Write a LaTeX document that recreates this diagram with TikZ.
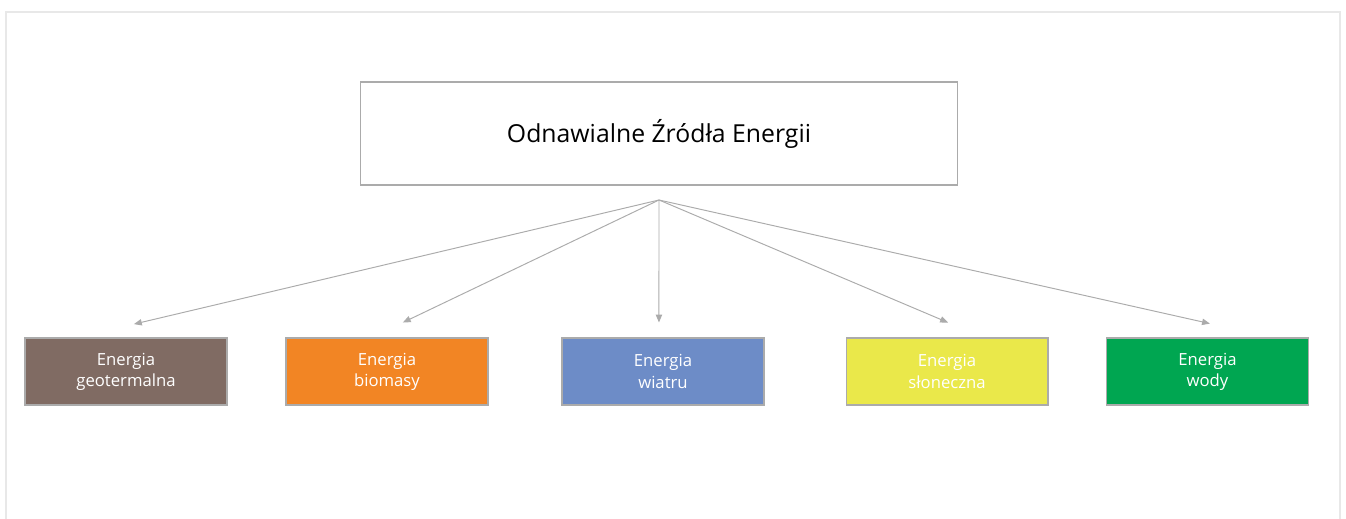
\documentclass[tikz,border=0pt]{standalone}
\usepackage{fontspec}
\setmainfont{Open Sans}
\usepackage{tikz}
\usetikzlibrary{arrows.meta,positioning}

\definecolor{lineGray}{HTML}{ABABAB}
\definecolor{frameGray}{HTML}{E8E8E8}
\definecolor{geoBrown}{HTML}{806B63}
\definecolor{bioOrange}{HTML}{F28524}
\definecolor{windBlue}{HTML}{6D8CC7}
\definecolor{sunYellow}{HTML}{EAE84A}
\definecolor{waterGreen}{HTML}{00A651}

\begin{document}
\begin{tikzpicture}[
  x=0.02cm, y=-0.02cm,
  every node/.style={font=\fontsize{9.5}{12}\selectfont},
  topbox/.style={draw=lineGray, line width=0.6pt, fill=white,
    minimum width=11.96cm, minimum height=2.06cm,
    font=\fontsize{14.1}{17}\selectfont},
  source/.style={draw=lineGray, line width=0.6pt, text=white, align=center,
    minimum width=4.04cm, minimum height=1.34cm},
  arrow/.style={-{Triangle[length=4.5pt,width=3.6pt]}, draw=lineGray, line width=0.55pt},
  ]

\useasboundingbox (0,0) rectangle (1346,519);
\draw[frameGray, line width=1.1pt] (6,519) -- (6,12) -- (1340,12) -- (1340,519);

% Nodes
\node[topbox] (OZE) at (659,133.5) {Odnawialne Źródła Energii};
\coordinate (hub) at (659,200);

\node[source, fill=geoBrown] (Geo) at (126,371.5) {Energia\\geotermalna};
\node[source, fill=bioOrange] (Bio) at (387,371.5) {Energia\\biomasy};
\node[source, fill=windBlue] (Wind) at (663,371.5) {Energia\\wiatru};
\node[source, fill=sunYellow] (Sun) at (947,371.5) {Energia\\słoneczna};
\node[source, fill=waterGreen] (Water) at (1207.5,371.5) {Energia\\wody};

% Arrows
\draw[arrow] (hub) -- ([xshift=4.5pt, yshift=7.6pt]Geo.north);
\draw[arrow] (hub) -- ([xshift=9pt, yshift=8.5pt]Bio.north);
\draw[arrow] (hub) -- ([xshift=-2.3pt, yshift=8.5pt]Wind.north);
\draw[arrow] (hub) -- ([xshift=0.6pt, yshift=8.5pt]Sun.north);
\draw[arrow] (hub) -- ([xshift=1.4pt, yshift=7.9pt]Water.north);

\end{tikzpicture}
\end{document}
